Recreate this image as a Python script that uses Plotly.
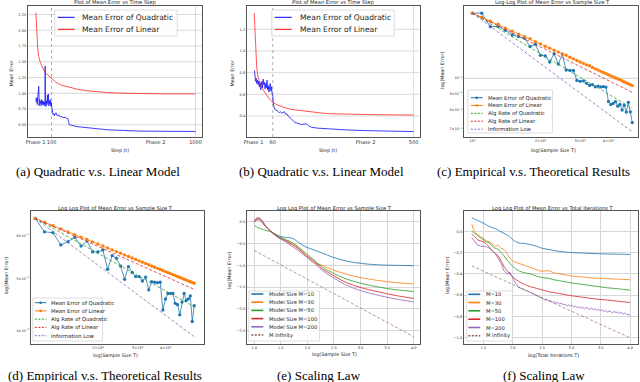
import plotly.graph_objects as go
from plotly.subplots import make_subplots
import math

W, H = 640, 382

# ---------------- data ----------------
# (a) quadratic vs linear model, 1000 steps
a_lin_step = [2, 4, 6, 8, 10, 14, 20, 30, 45, 60, 76, 100, 130, 160, 200, 260, 320, 370, 450, 550, 650, 800, 1000]
a_lin_err = [2.28, 2.15, 2.00, 1.88, 1.80, 1.69, 1.58, 1.49, 1.40, 1.33, 1.29, 1.23, 1.17, 1.13, 1.10, 1.065,
             1.04, 1.026, 1.01, 1.00, 0.995, 0.99, 0.99]
a_quad_step = [2, 5, 8, 11, 14, 17, 20, 23, 26, 29, 32, 35, 38, 41, 44, 47, 50, 53, 56, 59,
               60, 62, 65, 68, 71, 74, 77, 80, 83, 86, 89, 92, 95, 98, 101, 105, 110, 114, 118, 122,
               128, 133, 139, 145, 152, 159, 166, 172, 180, 188, 195, 201, 206, 211, 220, 232, 260, 284, 320, 367,
               450, 550, 650, 800, 1000]
a_quad_err = [0.92, 0.86, 0.93, 0.82, 0.95, 1.04, 1.11, 0.80, 0.90, 0.84, 0.87, 0.80, 0.90, 0.83, 0.88, 0.81, 0.87, 0.82, 0.86, 0.80,
              1.43, 0.86, 0.79, 0.88, 0.82, 0.97, 0.84, 0.99, 0.80, 0.88, 0.83, 0.90, 0.80, 0.86, 0.78, 0.74, 0.66, 0.68, 0.64, 0.67,
              0.69, 0.65, 0.64, 0.66, 0.63, 0.625, 0.63, 0.61, 0.61, 0.62, 0.60, 0.60, 0.55, 0.50, 0.495, 0.485, 0.47, 0.464, 0.455, 0.443,
              0.42, 0.41, 0.40, 0.397, 0.394]

# (b) quadratic vs linear model, 500 steps
b_lin_step = [2, 4, 6, 8, 10, 14, 20, 28, 36, 45, 52, 62, 75, 88, 105, 120, 145, 171, 210, 243, 300, 400, 500]
b_lin_err = [1.35, 1.18, 1.05, 0.93, 0.84, 0.76, 0.70, 0.65, 0.61, 0.575, 0.55, 0.522, 0.50, 0.485, 0.47, 0.46,
             0.45, 0.44, 0.428, 0.42, 0.415, 0.411, 0.409]
b_quad_step = [3, 4, 5, 6, 8, 10, 12, 14, 16, 18, 20, 22, 24, 26, 28, 30, 32, 34, 36, 38,
               40, 42, 44, 46, 48, 50, 52, 54, 56, 58, 60, 62, 64, 67, 70, 74, 77, 80, 84, 88,
               92, 96, 100, 104, 108, 113, 119, 124, 129, 135, 142, 150, 158, 166, 172, 181, 200, 233, 285, 350,
               420, 500]
b_quad_err = [0.82, 0.74, 0.78, 0.72, 0.75, 0.70, 0.73, 0.69, 0.72, 0.67, 0.71, 0.64, 0.68, 0.72, 0.66, 0.74, 0.69, 0.71, 0.65, 0.70,
              0.66, 0.73, 0.64, 0.68, 0.62, 0.66, 0.70, 0.63, 0.67, 0.60, 0.58, 0.50, 0.47, 0.46, 0.455, 0.45, 0.44, 0.43, 0.44, 0.425,
              0.43, 0.44, 0.415, 0.42, 0.40, 0.39, 0.37, 0.355, 0.34, 0.335, 0.33, 0.32, 0.325, 0.326, 0.31, 0.295, 0.288, 0.28, 0.272, 0.265,
              0.26, 0.256]

# (c) log-log, empirical vs theoretical
c_T = [1000, 1100, 1200, 1300, 1400, 1500, 1600, 1700, 1800, 1900, 2000, 2100, 2200, 2300, 2400, 2500, 2600, 2700,
       2800, 2900, 3000, 3100, 3200, 3300, 3400, 3500, 3600, 3700, 3800, 3900, 4000, 4100, 4200, 4300, 4400, 4500,
       4600, 4700, 4800, 4900, 5000, 5100]
c_quad = [0.158, 0.158, 0.1436, 0.1440, 0.1400, 0.1355, 0.1340, 0.1324, 0.1250, 0.1270, 0.1175, 0.1170, 0.1121, 0.1188,
          0.1105, 0.1185, 0.1060, 0.1057, 0.1057, 0.0985, 0.0979, 0.0982, 0.0965, 0.0951, 0.0956, 0.0942, 0.0946, 0.0941,
          0.0943, 0.0940, 0.0850, 0.0832, 0.0838, 0.0849, 0.0822, 0.0832, 0.0800, 0.0828, 0.0789, 0.0845, 0.0790, 0.0733]
c_lin = [0.158, 0.1536, 0.1493, 0.1462, 0.1423, 0.1392, 0.1364, 0.1339, 0.1320, 0.1293, 0.1273, 0.1253, 0.1235, 0.1218,
         0.1202, 0.1187, 0.1176, 0.1159, 0.1146, 0.1133, 0.1121, 0.1110, 0.1099, 0.1092, 0.1079, 0.1069, 0.1059, 0.1050,
         0.1042, 0.1033, 0.1025, 0.1017, 0.1010, 0.1002, 0.0995, 0.0991, 0.0981, 0.0975, 0.0969, 0.0962, 0.0956, 0.0950]
c_rate_T = [1000, 5100]
c_rate_quad = [0.158, 0.081]
c_rate_lin = [0.158, 0.0906]
c_info_low = [0.158, 0.0687]

# (d) log-log, second run
d_T = [1050, 1155, 1260, 1365, 1470, 1575, 1680, 1785, 1890, 1995, 2100, 2205, 2310, 2415, 2520, 2625, 2730, 2835,
       2940, 3045, 3150, 3255, 3360, 3465, 3570, 3675, 3780, 3885, 3990, 4095, 4200, 4305, 4410, 4515, 4620, 4725,
       4830, 4935, 5040, 5145, 5250, 5355]
d_quad = [0.646, 0.610, 0.608, 0.577, 0.585, 0.596, 0.574, 0.587, 0.560, 0.560, 0.5645, 0.520, 0.551, 0.545, 0.527,
          0.498, 0.526, 0.513, 0.504, 0.504, 0.4945, 0.503, 0.476, 0.493, 0.492, 0.491, 0.492, 0.437, 0.458, 0.469,
          0.469, 0.469, 0.4495, 0.447, 0.428, 0.452, 0.469, 0.455, 0.458, 0.464, 0.416, 0.445]
d_lin = [0.646, 0.6356, 0.6263, 0.6178, 0.6101, 0.6030, 0.5964, 0.5904, 0.5846, 0.5793, 0.5742, 0.5695, 0.5650, 0.5607,
         0.5567, 0.5528, 0.5491, 0.5456, 0.5423, 0.5390, 0.5359, 0.5329, 0.5301, 0.5273, 0.5246, 0.5221, 0.5196, 0.5172,
         0.5148, 0.5125, 0.5103, 0.5082, 0.5062, 0.5041, 0.5021, 0.5003, 0.4984, 0.4966, 0.4948, 0.4931, 0.4914, 0.4898]
d_rate_T = [1050, 5355]
d_rate_quad = [0.646, 0.443]
d_rate_lin = [0.646, 0.4773]
d_info_low = [0.646, 0.390]

# (e) scaling law vs sample size (log10 values)
e_logT = [1.0, 1.06, 1.125, 1.22, 1.34, 1.47, 1.59, 1.72, 1.84, 1.97, 2.09, 2.28, 2.47, 2.72, 3.03, 3.34, 3.65, 4.0]
e_m10 = [-0.02, 0.055, 0.01, -0.12, -0.25, -0.33, -0.36, -0.38, -0.48, -0.58, -0.63, -0.72, -0.81, -0.90, -0.96, -0.99, -1.0, -1.01]
e_m30 = [0.0, 0.04, 0.03, -0.12, -0.25, -0.36, -0.42, -0.50, -0.61, -0.76, -0.93, -1.0, -1.1, -1.2, -1.29, -1.35, -1.395, -1.43]
e_m50 = [-0.08, -0.13, -0.16, -0.2, -0.24, -0.34, -0.41, -0.48, -0.59, -0.72, -0.84, -1.04, -1.17, -1.31, -1.42, -1.50, -1.56, -1.60]
e_m100 = [0.02, 0.09, 0.06, -0.1, -0.25, -0.37, -0.44, -0.53, -0.63, -0.77, -0.87, -1.08, -1.22, -1.39, -1.52, -1.61, -1.69, -1.76]
e_m200 = [0.0, 0.07, 0.05, -0.11, -0.26, -0.38, -0.46, -0.57, -0.67, -0.80, -0.90, -1.12, -1.27, -1.45, -1.59, -1.69, -1.77, -1.84]
e_inf_logT = [1.0, 4.0]
e_inf = [-0.66, -2.64]

# (f) scaling law vs total iterations (log10 values)
f_logT = [1.30, 1.35, 1.40, 1.45, 1.50, 1.55, 1.60, 1.65, 1.70, 1.75, 1.80, 1.85, 1.90, 1.95, 2.00,
          2.10, 2.20, 2.30, 2.40, 2.50, 2.60, 2.70, 2.80, 2.90, 3.00, 3.20, 3.40, 3.60, 3.80, 4.00]
f_m10 = [0.126, 0.115, 0.10, 0.09, 0.075, 0.06, 0.045, 0.035, 0.025, 0.01, -0.005, -0.02, -0.035, -0.05, -0.08,
         -0.11, -0.115, -0.125, -0.14, -0.16, -0.17, -0.18, -0.19, -0.195, -0.20, -0.205, -0.21, -0.213, -0.215, -0.218]
f_m30 = [0.07, -0.01, -0.03, -0.05, -0.07, -0.09, -0.10, -0.12, -0.14, -0.13, -0.16, -0.17, -0.21, -0.25, -0.28,
         -0.30, -0.32, -0.34, -0.36, -0.375, -0.37, -0.39, -0.40, -0.41, -0.42, -0.43, -0.44, -0.445, -0.45, -0.455]
f_m50 = [0.0, -0.02, -0.04, -0.06, -0.08, -0.10, -0.11, -0.14, -0.16, -0.17, -0.20, -0.23, -0.27, -0.30, -0.33,
         -0.37, -0.39, -0.40, -0.42, -0.435, -0.44, -0.455, -0.465, -0.475, -0.485, -0.50, -0.515, -0.53, -0.54, -0.553]
f_m100 = [-0.03, -0.05, -0.08, -0.09, -0.10, -0.12, -0.15, -0.18, -0.21, -0.23, -0.28, -0.33, -0.37, -0.40, -0.43,
          -0.47, -0.50, -0.52, -0.535, -0.55, -0.565, -0.575, -0.585, -0.595, -0.605, -0.62, -0.635, -0.645, -0.657, -0.668]
f_m200_logT = [1.30, 1.35, 1.40, 1.45, 1.50, 1.55, 1.60, 1.65, 1.70, 1.75, 1.80, 1.85, 1.90, 1.95, 2.00, 2.05, 2.10,
               2.15, 2.20, 2.25, 2.30, 2.35, 2.40, 2.45, 2.50,
               2.53, 2.56, 2.59, 2.62, 2.65, 2.68, 2.71, 2.74, 2.77, 2.80, 2.83, 2.86, 2.89, 2.92, 2.95, 2.98,
               3.01, 3.04, 3.07, 3.10, 3.13, 3.16, 3.19, 3.22, 3.25, 3.28, 3.31, 3.34, 3.37, 3.40, 3.43, 3.46,
               3.49, 3.52, 3.55, 3.58, 3.61, 3.64, 3.67, 3.70, 3.73, 3.76, 3.79, 3.82, 3.85, 3.88, 3.91, 3.94,
               3.97, 4.00]
f_m200 = [-0.06, -0.10, -0.13, -0.14, -0.14, -0.145, -0.16, -0.18, -0.21, -0.26, -0.30, -0.37, -0.40, -0.385, -0.44,
          -0.49, -0.525, -0.54, -0.55, -0.56, -0.575, -0.585, -0.60, -0.615, -0.63,
          -0.638, -0.645, -0.641, -0.655, -0.650, -0.668, -0.660, -0.676, -0.668, -0.682, -0.674, -0.692, -0.684,
          -0.700, -0.690, -0.703, -0.696, -0.712, -0.702, -0.718, -0.708, -0.724, -0.712, -0.728, -0.716, -0.722,
          -0.735, -0.720, -0.738, -0.726, -0.742, -0.730, -0.748, -0.736, -0.755, -0.742, -0.760, -0.748, -0.752,
          -0.768, -0.750, -0.765, -0.756, -0.772, -0.760, -0.778, -0.766, -0.784, -0.776, -0.798]
f_inf_logT = [1.3, 4.0]
f_inf = [-0.325, -1.0]

# ---------------- figure ----------------
BLUE, ORANGE, GREEN, RED, PURPLE, BROWN = "#1f77b4", "#ff7f0e", "#2ca02c", "#d62728", "#9467bd", "#8c564b"
SANS = "DejaVu Sans"
SERIF = "Liberation Serif"

# plot boxes in pixels: left, right, top, bottom
boxes = {1: (25, 200, 6, 137), 2: (245, 419, 6, 137), 3: (463, 638, 6, 137),
         4: (28, 202, 211, 344), 5: (245, 419, 211, 344), 6: (463, 638, 211, 344)}

fig = make_subplots(rows=2, cols=3)


def add_line(i, x, y, color, width=1.0, dash="solid", marker=False, opacity=1.0, shape="linear"):
    r, c = (i - 1) // 3 + 1, (i - 1) % 3 + 1
    fig.add_trace(go.Scatter(x=x, y=y, mode="lines+markers" if marker else "lines",
                             line=dict(color=color, width=width, dash=dash, shape=shape),
                             marker=dict(size=3.3, color=color), opacity=opacity,
                             showlegend=False, hoverinfo="skip"), row=r, col=c)


def style_axes(i, xr, yr, xtv, xtt, ytv, ytt, xtype="linear", ytype="linear", grid=False, xfs=3.8, yfs=3.6):
    s = "" if i == 1 else str(i)
    x0, x1, y0, y1 = boxes[i]
    common = dict(showline=True, mirror=True, linecolor="#555555", linewidth=0.8, ticks="", tickangle=0,
                  zeroline=False, gridcolor="#d8d8d8", gridwidth=0.7, showgrid=grid)
    fig.update_layout(**{
        "xaxis" + s: dict(common, domain=[x0 / W, x1 / W], range=xr, type=xtype, tickmode="array",
                          tickvals=xtv, ticktext=xtt, tickfont=dict(family=SANS, size=xfs, color="#333")),
        "yaxis" + s: dict(common, domain=[1 - y1 / H, 1 - y0 / H], range=yr, type=ytype, tickmode="array",
                          tickvals=ytv, ticktext=ytt, tickfont=dict(family=SANS, size=yfs, color="#333")),
    })


def text(x, y, s, size, angle=0, family=SANS, xanchor="center", color="#222"):
    fig.add_annotation(x=x / W, y=1 - y / H, xref="paper", yref="paper", text=s, showarrow=False,
                       textangle=angle, xanchor=xanchor, yanchor="middle",
                       font=dict(family=family, size=size, color=color))


def legend(box, sample, tx, rows, items, size, lw=1.0):
    x0, x1, y0, y1 = box
    fig.add_shape(type="rect", xref="paper", yref="paper", x0=x0 / W, x1=x1 / W, y0=1 - y1 / H, y1=1 - y0 / H,
                  line=dict(color="#d0d0d0", width=0.7), fillcolor="rgba(255,255,255,0.85)", layer="above")
    for yy, (label, color, dash, marker) in zip(rows, items):
        fig.add_shape(type="line", xref="paper", yref="paper", x0=sample[0] / W, x1=sample[1] / W,
                      y0=1 - yy / H, y1=1 - yy / H, line=dict(color=color, width=lw, dash=dash), layer="above")
        if marker:
            cx = (sample[0] + sample[1]) / 2
            fig.add_shape(type="circle", xref="paper", yref="paper", x0=(cx - 1.3) / W, x1=(cx + 1.3) / W,
                          y0=1 - (yy + 1.3) / H, y1=1 - (yy - 1.3) / H, line=dict(width=0),
                          fillcolor=color, layer="above")
        text(tx, yy, label, size, xanchor="left")


# ---- (a)
add_line(1, a_quad_step, a_quad_err, "#0000ff", 0.9, opacity=0.85)
add_line(1, a_lin_step, a_lin_err, "#ff0000", 0.9, opacity=0.75)
style_axes(1, [-48, 1041], [0.306, 2.385], [0, 100, 750, 1000], ["Phase 1", "100", "Phase 2", "1000"],
           [0.5, 0.75, 1.0, 1.25, 1.5, 1.75, 2.0, 2.25], ["0.50", "0.75", "1.00", "1.25", "1.50", "1.75", "2.00", "2.25"],
           grid=False, xfs=5.0)
# ---- (b)
add_line(2, b_quad_step, b_quad_err, "#0000ff", 0.9, opacity=0.85)
add_line(2, b_lin_step, b_lin_err, "#ff0000", 0.9, opacity=0.75)
style_axes(2, [-21, 520], [0.206, 1.415], [0, 60, 350, 500], ["Phase 1", "60", "Phase 2", "500"],
           [0.4, 0.6, 0.8, 1.0, 1.2], ["0.4", "0.6", "0.8", "1.0", "1.2"], grid=False, xfs=5.0)

for i in (1, 2):
    s = "" if i == 1 else str(i)
    for yv in fig.layout["yaxis" + s].tickvals:
        fig.add_shape(type="line", xref="x" + s + " domain", yref="y" + s, x0=0, x1=1, y0=yv, y1=yv,
                      line=dict(color="#d0d0d0", width=0.8), layer="below")
fig.add_shape(type="line", xref="x", yref="y domain", x0=100, x1=100, y0=0, y1=1,
              line=dict(color="#999999", width=0.8, dash="dot"), layer="below")
fig.add_shape(type="line", xref="x", yref="y domain", x0=1000, x1=1000, y0=0, y1=1,
              line=dict(color="#d0d0d0", width=0.8), layer="below")
fig.add_shape(type="line", xref="x2", yref="y2 domain", x0=60, x1=60, y0=0, y1=1,
              line=dict(color="#999999", width=0.8, dash="dot"), layer="below")
fig.add_shape(type="line", xref="x2", yref="y2 domain", x0=500, x1=500, y0=0, y1=1,
              line=dict(color="#d0d0d0", width=0.8), layer="below")

# ---- (c)
add_line(3, c_T, c_quad, BLUE, 0.8, marker=True)
add_line(3, c_T, c_lin, ORANGE, 0.8, marker=True)
add_line(3, c_rate_T, c_rate_quad, GREEN, 0.8, dash="3px,2px")
add_line(3, c_rate_T, c_rate_lin, RED, 0.8, dash="3px,2px")
add_line(3, c_rate_T, c_info_low, PURPLE, 0.8, dash="3px,2px")
c_xr, c_yr = [2.962, 3.733], [-1.179, -0.7796]
style_axes(3, c_xr, c_yr, [1000, 2000, 3000, 4000],
           ["10<sup>3</sup>", "2×10<sup>3</sup>", "3×10<sup>3</sup>", "4×10<sup>3</sup>"],
           [0.07, 0.08, 0.09, 0.1], ["7×10<sup>−2</sup>", "8×10<sup>−2</sup>", "9×10<sup>−2</sup>", "10<sup>−1</sup>"],
           xtype="log", ytype="log", xfs=3.6, yfs=3.4)
gy = (math.log10(0.1) - c_yr[0]) / (c_yr[1] - c_yr[0])
fig.add_shape(type="line", xref="x3 domain", yref="y3 domain", x0=0, x1=1, y0=gy, y1=gy,
              line=dict(color="#c8c8c8", width=0.8), layer="below")

# ---- (d)
add_line(4, d_T, d_quad, BLUE, 0.8, marker=True)
add_line(4, d_T, d_lin, ORANGE, 0.8, marker=True)
add_line(4, d_rate_T, d_rate_quad, GREEN, 0.8, dash="3px,2px")
add_line(4, d_rate_T, d_rate_lin, RED, 0.8, dash="3px,2px")
add_line(4, d_rate_T, d_info_low, PURPLE, 0.8, dash="3px,2px")
style_axes(4, [3.002, 3.7726], [-0.4226, -0.176], [2000, 3000, 4000],
           ["2×10<sup>3</sup>", "3×10<sup>3</sup>", "4×10<sup>3</sup>"],
           [0.4, 0.5, 0.6], ["4×10<sup>−1</sup>", "5×10<sup>−1</sup>", "6×10<sup>−1</sup>"],
           xtype="log", ytype="log", xfs=3.6, yfs=3.4)

# ---- (e)
for ys, col in [(e_m10, BLUE), (e_m30, ORANGE), (e_m50, GREEN), (e_m100, RED), (e_m200, PURPLE)]:
    add_line(5, e_logT, ys, col, 1.0, opacity=0.8, shape="spline")
add_line(5, e_inf_logT, e_inf, BROWN, 1.0, dash="3px,2px", opacity=0.6)
style_axes(5, [0.863, 4.118], [-2.805, 0.245], [1.0, 1.5, 2.0, 2.5, 3.0, 3.5, 4.0],
           ["1.0", "1.5", "2.0", "2.5", "3.0", "3.5", "4.0"],
           [-2.5, -2.0, -1.5, -1.0, -0.5, 0.0], ["−2.5", "−2.0", "−1.5", "−1.0", "−0.5", "0.0"],
           grid=True, xfs=3.6, yfs=3.6)

# ---- (f)
for ys, col in [(f_m10, BLUE), (f_m30, ORANGE), (f_m50, GREEN), (f_m100, RED)]:
    add_line(6, f_logT, ys, col, 1.0, opacity=0.8, shape="spline")
add_line(6, f_m200_logT, f_m200, PURPLE, 1.0, opacity=0.8)
add_line(6, f_inf_logT, f_inf, BROWN, 1.0, dash="3px,2px", opacity=0.6)
style_axes(6, [1.165, 4.135], [-1.058, 0.19], [1.5, 2.0, 2.5, 3.0, 3.5, 4.0],
           ["1.5", "2.0", "2.5", "3.0", "3.5", "4.0"],
           [-1.0, -0.8, -0.6, -0.4, -0.2, 0.0], ["−1.0", "−0.8", "−0.6", "−0.4", "−0.2", "0.0"],
           grid=True, xfs=3.6, yfs=3.6)

# ---- titles, axis labels, captions
titles = [(113, 2.7, "Plot of Mean Error vs Time Step"), (332, 2.7, "Plot of Mean Error vs Time Step"),
          (552, 2.7, "Log-Log Plot of Mean Error vs Sample Size T"),
          (113, 208, "Log Log Plot of Mean Error vs Sample Size T"),
          (333, 208, "Log Log Plot of Mean Error vs Sample Size T"),
          (553, 208, "Log Log Plot of Mean Error vs Total Iterations T")]
for x, y, s in titles:
    text(x, y, s, 5.2)

xlabels = [(118, 150.5, "Step (t)"), (327, 150.5, "Step (t)"), (553, 150.5, "log(Sample Size T)"),
           (113, 355, "log(Sample Size T)"), (333, 354.5, "log(Sample Size T)"), (553, 355, "log(Total Iterations T)")]
for x, y, s in xlabels:
    text(x, y, s, 4.8)
ylabels = [(8.5, 73, "Mean Error"), (230.5, 73, "Mean Error"), (441, 70, "log(Mean Error)"),
           (3, 275, "log(Mean Error)"), (227, 270, "log(Mean Error)"), (446, 275, "log(Mean Error)")]
for x, y, s in ylabels:
    text(x, y, s, 4.8, angle=-90)

captions = [(95, 171.5, "(a) Quadratic v.s. Linear Model"), (320, 171.5, "(b) Quadratic v.s. Linear Model"),
            (533, 171.5, "(c) Empirical v.s. Theoretical Results"),
            (102, 375.5, "(d) Empirical v.s. Theoretical Results"), (317, 375.5, "(e) Scaling Law"),
            (544, 375.5, "(f) Scaling Law")]
for x, y, s in captions:
    text(x, y, s, 13, family=SERIF, color="#000")

# ---- legends
ab_items = [("Mean Error of Quadratic", "#0000ff", "solid", False), ("Mean Error of Linear", "#ff0000", "solid", False)]
legend((52, 175, 10, 36), (55, 72), 77.5, [17.3, 29.3], ab_items, 7.6)
legend((270, 393, 10, 36), (273, 290), 296, [17.3, 29.3], ab_items, 7.6)

cd_items = [("Mean Error of Quadratic", BLUE, "solid", True), ("Mean Error of Linear", ORANGE, "solid", True),
            ("Alg Rate of Quadratic", GREEN, "2px,1.5px", False), ("Alg Rate of Linear", RED, "2px,1.5px", False),
            ("Information Low", PURPLE, "2px,1.5px", False)]
legend((467, 552, 90, 133), (470, 482), 485, [97.7, 105.5, 113.3, 121.2, 129.2], cd_items, 5.3)
legend((30, 100, 298, 341), (32, 43.5), 46.5, [302.7, 310.9, 319.2, 327.4, 335.7], cd_items, 5.3)

m_colors = [BLUE, ORANGE, GREEN, RED, PURPLE]
e_items = [("Model Size M=" + m, c, "solid", False) for m, c in zip(["10", "30", "50", "100", "200"], m_colors)]
e_items.append(("M infinity", BROWN, "2px,1.5px", False))
legend((247, 318, 291, 341), (249.5, 261.5), 265, [294, 302.2, 310.4, 318.6, 326.8, 335], e_items, 5.2, lw=1.6)
f_items = [("M=" + m, c, "solid", False) for m, c in zip(["10", "30", "50", "100", "200"], m_colors)]
f_items.append(("M infinity", BROWN, "2px,1.5px", False))
legend((466, 512, 291, 341), (467.5, 479.5), 483.5, [294.3, 302.5, 310.8, 319.2, 327.5, 335.7], f_items, 5.2, lw=1.6)

fig.update_layout(width=W, height=H, margin=dict(l=0, r=0, t=0, b=0), showlegend=False,
                  paper_bgcolor="white", plot_bgcolor="white")

fig.write_html("out.html", config={"displayModeBar": False},
               post_script="document.body.style.margin='0';")
